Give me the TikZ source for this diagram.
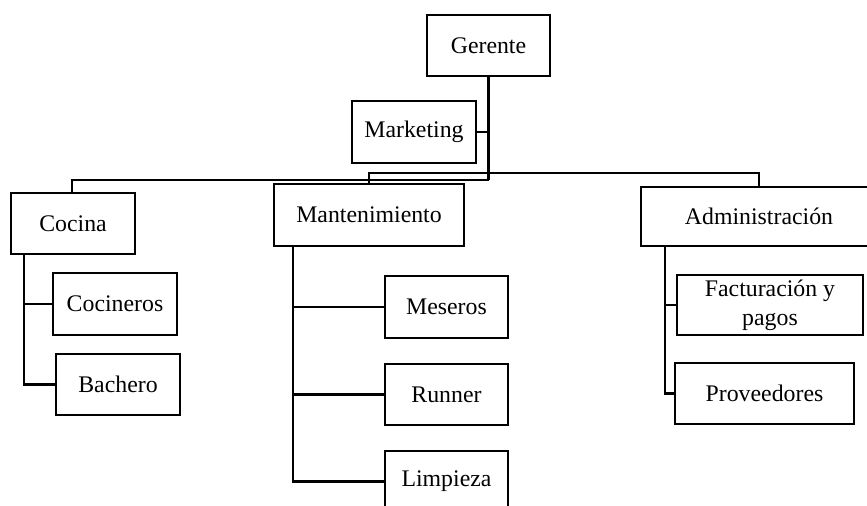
\documentclass[tikz,border=0pt]{standalone}
\usepackage{fontspec}
\setmainfont{Liberation Serif}
\begin{document}
\begin{tikzpicture}[x=0.5pt,y=-0.5pt,
  box/.style={draw,line width=1.2pt,inner sep=0pt,align=center,font=\fontsize{11.9}{14.5}\selectfont},
  conn/.style={line width=1.2pt}]
\useasboundingbox (0,0) rectangle (867,506);
\clip (0,0) rectangle (867,506);
% boxes (sizes in pt = px/2)
\node[box,minimum width=61.5pt,minimum height=30.5pt] (ger) at (488.5,45.5) {Gerente};
\node[box,minimum width=62pt,minimum height=31pt] (mkt) at (414,132) {Marketing};
\node[box,minimum width=62pt,minimum height=30.5pt] (coc) at (73,223.5) {Cocina};
\node[box,minimum width=95pt,minimum height=31pt] (man) at (369,215) {Mantenimiento};
\node[box,minimum width=118pt,minimum height=29.5pt] (adm) at (759,216.5) {Administración};
\node[box,minimum width=62pt,minimum height=31pt] (cocn) at (115,304) {Cocineros};
\node[box,minimum width=62pt,minimum height=30.5pt] (bach) at (118,384.5) {Bachero};
\node[box,minimum width=61.5pt,minimum height=31pt] (mes) at (446.5,307) {Meseros};
\node[box,minimum width=61.5pt,minimum height=30.5pt] (run) at (446.5,394.5) {Runner};
\node[box,minimum width=61.5pt,minimum height=30.5pt] (lim) at (446.5,481.5) {Limpieza};
\node[box,minimum width=93pt,minimum height=30pt] (fac) at (770,305) {Facturación y\\pagos};
\node[box,minimum width=89.5pt,minimum height=30.5pt] (pro) at (764.5,393.5) {Proveedores};
% junctions
\coordinate (ja) at (488.5,173);
\coordinate (jb) at (488.5,180);
\coordinate (cv) at (24,254);
\coordinate (mv) at (293,246);
\coordinate (av) at (665,246);
% connectors
\draw[conn] (ger.south) -- (jb);
\draw[conn] (mkt.east) -- (mkt.east -| ger.south);
\draw[conn] ([xshift=-0.5pt]coc.north) |- (jb);
\draw[conn] (man.north) |- (ja);
\draw[conn] (ja) -| (adm.north);
\draw[conn] (cv) |- (bach.west);
\draw[conn] (cv |- cocn.west) -- (cocn.west);
\draw[conn] (mv) |- (lim.west);
\draw[conn] (mv |- mes.west) -- (mes.west);
\draw[conn] (mv |- run.west) -- (run.west);
\draw[conn] (av) |- (pro.west);
\draw[conn] (av |- fac.west) -- (fac.west);
\end{tikzpicture}
\end{document}
